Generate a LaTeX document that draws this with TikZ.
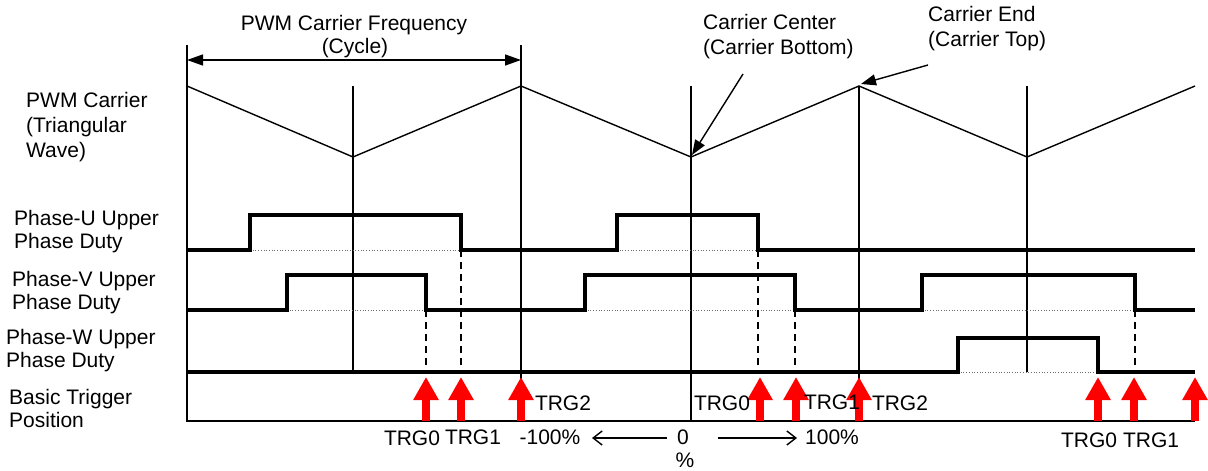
\documentclass[tikz,border=0pt]{standalone}
\usepackage{fontspec}
\setmainfont{Liberation Sans}
\usetikzlibrary{positioning,arrows.meta}
\definecolor{TrigRed}{RGB}{255,0,0}
\definecolor{GuideGray}{RGB}{110,110,110}
\tikzset{
  txt/.style={font=\fontsize{21}{25}\selectfont, inner sep=0pt, align=left},
  rowlabel/.style={txt, anchor=west},
  dutylabel/.style={rowlabel, font=\fontsize{21}{23}\selectfont},
  gridline/.style={line width=1.4pt},
  wave/.style={line width=3.8pt, line join=miter},
  guide/.style={draw=GuideGray, line width=0.7pt, dotted},
  dropline/.style={line width=1.2pt, dash pattern=on 7pt off 5pt},
  trig/.style={draw=TrigRed, line width=7.5pt, -{Triangle[length=23pt,width=24pt]}},
  pointer/.style={line width=1.4pt, -{Triangle[length=15pt,width=11pt]}},
  dimline/.style={line width=1.4pt, {Triangle[length=16pt,width=11pt]}-{Triangle[length=16pt,width=11pt]}},
  span/.style={line width=1.4pt, -{Straight Barb[length=9pt,width=14pt]}}
}

\begin{document}
\begin{tikzpicture}[x=1pt,y=-1pt]
    \useasboundingbox (0,0) rectangle (1208,471);
    % row labels
    \node[rowlabel] (carrierlbl) at (26,127) {PWM Carrier\\(Triangular\\Wave)};
    \node[dutylabel] (ulbl) at (14,232) {Phase-U Upper\\Phase Duty};
    \node[dutylabel] (vlbl) at (12,293) {Phase-V Upper\\Phase Duty};
    \node[dutylabel] (wlbl) at (6,351) {Phase-W Upper\\Phase Duty};
    \node[dutylabel] (triglbl) at (9,408) {Basic Trigger\\Position};
    % grid
    \draw[gridline] (187,45) -- (187,421) -- (1195,421);
    \draw[gridline] (521,45) -- (521,421);
    \foreach \x in {691,859} \draw[gridline] (\x,86) -- (\x,421);
    \foreach \x in {353,1027} \draw[gridline] (\x,86) -- (\x,372);
    % carrier
    \draw[gridline] (187,86) -- (353,157) -- (521,86) -- (691,157) -- (859,86) -- (1027,157) -- (1195,86);
    \coordinate (cbottom) at (692,155);
    \coordinate (ctop) at (861,84);
    % cycle width
    \coordinate (cycleA) at (187,60);
    \coordinate (cycleB) at (521,60);
    \draw[dimline] (cycleA) -- (cycleB);
    \node[txt] (freq) at (354,25) {PWM Carrier Frequency};
    \node[txt] (cycle) at (355,48) {(Cycle)};
    \node[txt, anchor=west] (centerlbl) at (703,37) {Carrier Center\\(Carrier Bottom)};
    \node[txt, anchor=west] (endlbl) at (928,29) {Carrier End\\(Carrier Top)};
    \coordinate (centertail) at (743,74);
    \coordinate (endtail) at (928,65);
    \draw[pointer] (centertail) -- (cbottom);
    \draw[pointer] (endtail) -- (ctop);
    % guides under pulses
    \foreach \a/\b/\y in {250/461/250, 617/758/250, 287/426/310, 585/795/310, 922/1135/310, 958/1098/372}
      \draw[guide] (\a,\y) -- (\b,\y);
    % duty waves
    \draw[wave] (187,250) -- (250,250) -- (250,215) -- (461,215) -- (461,250) -- (617,250) -- (617,215)
      -- (758,215) -- (758,250) -- (1195,250);
    \draw[wave] (187,310) -- (287,310) -- (287,275) -- (426,275) -- (426,310) -- (585,310) -- (585,275)
      -- (795,275) -- (795,310) -- (922,310) -- (922,275) -- (1135,275) -- (1135,310) -- (1195,310);
    \draw[wave] (187,372) -- (958,372) -- (958,338) -- (1098,338) -- (1098,372) -- (1195,372);
    % edges down to the trigger row
    \foreach \x/\y in {461/250, 758/250, 426/310, 795/310, 1135/310}
      \draw[dropline] (\x,\y) -- (\x,372);
    % trigger arrows
    \foreach \x [count=\i] in {426,461,521,760,796,859,1098,1134,1195} {
      \coordinate (tb\i) at (\x,421);
      \coordinate (tt\i) at (\x,377);
      \draw[trig] (tb\i) -- (tt\i);
    }
    \node[txt] (trgA) at (412,438) {TRG0};
    \node[txt] (trgB) at (473,437) {TRG1};
    \node[txt] (trgC) at (563,403) {TRG2};
    \node[txt] (trgD) at (722,403) {TRG0};
    \node[txt] (trgE) at (832,402) {TRG1};
    \node[txt] (trgF) at (900,403) {TRG2};
    \node[txt] (trgG) at (1089,440) {TRG0};
    \node[txt] (trgH) at (1151,440) {TRG1};
    % duty range
    \node[txt] (minus) at (550,437) {-100\%};
    \node[txt] (zero) at (683,437) {0};
    \node[txt] (pct) at (685,460) {\%};
    \node[txt] (plus) at (832,437) {100\%};
    \coordinate (leftA) at (667,438);
    \coordinate (leftB) at (592,438);
    \coordinate (rightA) at (718,438);
    \coordinate (rightB) at (797,438);
    \draw[span] (leftA) -- (leftB);
    \draw[span] (rightA) -- (rightB);
  \end{tikzpicture}
\end{document}
